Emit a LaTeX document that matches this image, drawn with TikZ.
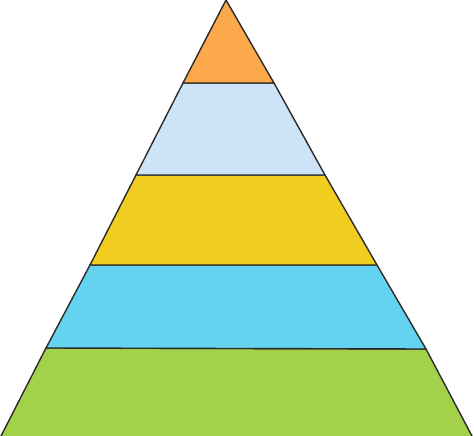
\documentclass[tikz,border=0pt]{standalone}
\definecolor{cOrange}{HTML}{FBA94B}
\definecolor{cLightBlue}{HTML}{CDE4F8}
\definecolor{cYellow}{HTML}{F1CD1F}
\definecolor{cCyan}{HTML}{64D3EF}
\definecolor{cGreen}{HTML}{A3D24A}
\definecolor{cGreenDark}{HTML}{8DBE38}
\definecolor{cEdge}{HTML}{2B2B2B}
\begin{document}
\begin{tikzpicture}[x=1pt,y=-1pt,
  band/.style={draw=cEdge,line width=1.4pt,line join=round}]
\useasboundingbox (0,0) rectangle (474,436);
\begin{scope}
\clip (0,0) rectangle (474,436);
\coordinate (apex) at (226,0);
\coordinate (l1) at (183,83);  \coordinate (r1) at (274,83);
\coordinate (l2) at (136,175); \coordinate (r2) at (325,175);
\coordinate (l3) at (90,265);  \coordinate (r3) at (377,265);
\coordinate (l4) at (46,348);  \coordinate (r4) at (426,349);
\coordinate (l5) at (1,436);   \coordinate (r5) at (472,436);
\fill[cGreen] (l4) -- (r4) -- (r5) -- (l5) -- cycle;
\draw[cGreenDark,line width=3pt] ([yshift=-1.5pt]l5) -- ([yshift=-1.5pt]r5);
\draw[band] (l5) -- (l4) -- (r4) -- (r5);
\draw[band,fill=cCyan] (l3) -- (r3) -- (r4) -- (l4) -- cycle;
\draw[band,fill=cYellow] (l2) -- (r2) -- (r3) -- (l3) -- cycle;
\draw[band,fill=cLightBlue] (l1) -- (r1) -- (r2) -- (l2) -- cycle;
\draw[band,fill=cOrange] (apex) -- (r1) -- (l1) -- cycle;
\end{scope}
\end{tikzpicture}
\end{document}
